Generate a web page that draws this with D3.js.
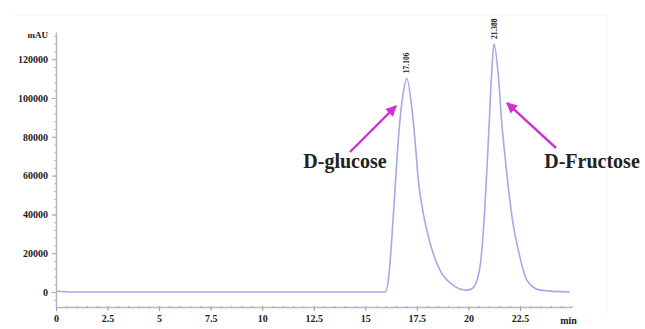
<!DOCTYPE html>
<html><head><meta charset="utf-8">
<script src="https://cdn.jsdelivr.net/npm/d3@7/dist/d3.min.js"></script>
<style>
html,body{margin:0;padding:0;background:#fff;}
svg{display:block;}
text{font-family:"Liberation Serif","Times New Roman",serif;font-weight:bold;fill:#222;}
</style></head>
<body>
<script>
// Chromatogram trace (time in min, signal in mAU)
const times  = [0.05, 0.8, 5, 10, 15, 15.96, 16.12, 16.28, 16.44, 16.60, 16.84, 17.01, 17.25, 17.41, 17.57, 17.81, 18.14, 18.62, 19.25, 19.92, 20.22, 20.56, 20.80, 20.97, 21.13, 21.24, 21.44, 21.62, 21.86, 22.16, 22.50, 22.83, 23.47, 24.93];
const values = [400, 0, 0, 0, 0, 0, 6200, 26800, 52600, 78400, 102600, 110200, 95400, 78400, 57700, 40700, 25300, 11300, 3600, 1000, 2100, 12900, 43800, 78400, 112900, 127800, 112900, 87100, 61300, 35600, 18000, 6200, 1000, 0];
const yTicks = [0, 20000, 40000, 60000, 80000, 100000, 120000];
const xTicks = [0, 2.5, 5, 7.5, 10, 12.5, 15, 17.5, 20, 22.5];
const xUnit = "min";
const yUnit = "mAU";
const peakTimes = [17.01, 21.24];
const peakLabels = ["17.106", "21.388"];
const peakValues = [110200, 127800];
const compounds = ["D-glucose", "D-Fructose"];

const W = 645, H = 329;
const svg = d3.select("body").append("svg").attr("width", W).attr("height", H);

const x = d3.scaleLinear().domain([0, 25]).range([56, 571.5]);
const y = d3.scaleLinear().domain([-7700, 134000]).range([307, 32]);

// faint frame
svg.append("line").attr("x1", 15).attr("x2", 607).attr("y1", 15).attr("y2", 15)
  .attr("stroke", "#eeeeee").attr("stroke-width", 1);
svg.append("line").attr("x1", 607).attr("x2", 607).attr("y1", 15).attr("y2", 315)
  .attr("stroke", "#f2f2f2").attr("stroke-width", 1);

// Y axis
const yAxis = d3.axisLeft(y).tickValues(yTicks).tickSize(4).tickSizeOuter(0)
  .tickFormat(d3.format("d"));
const gy = svg.append("g").attr("transform", "translate(56,0)").call(yAxis);
gy.select(".domain").attr("stroke", "#b8b8b8").attr("stroke-width", 1.5);
gy.selectAll(".tick line").attr("stroke", "#999");
gy.selectAll(".tick text").attr("x", -8).style("font-size", "10px")
  .style("font-family", "Liberation Serif").style("font-weight", "bold").attr("fill", "#333");
const gyMinor = svg.append("g").attr("transform", "translate(56,0)")
  .call(d3.axisLeft(y).tickValues(d3.range(-4000, 134000, 4000)).tickSize(2).tickFormat(""));
gyMinor.select(".domain").remove();
gyMinor.selectAll(".tick line").attr("stroke", "#bbb");

svg.append("text").attr("x", 48).attr("y", 38).attr("text-anchor", "end")
  .style("font-size", "9px").text(yUnit);

// X axis
const xAxis = d3.axisBottom(x).tickValues(xTicks).tickSize(4).tickSizeOuter(0)
  .tickFormat(d => String(d));
const gx = svg.append("g").attr("transform", "translate(0,307)").call(xAxis);
gx.select(".domain").attr("stroke", "#b8b8b8").attr("stroke-width", 1.5);
gx.selectAll(".tick line").attr("stroke", "#999");
gx.selectAll(".tick text").attr("y", 8).style("font-size", "10px")
  .style("font-family", "Liberation Serif").style("font-weight", "bold").attr("fill", "#333");
const gxMinor = svg.append("g").attr("transform", "translate(0,307)")
  .call(d3.axisBottom(x).tickValues(d3.range(0.5, 25.01, 0.5)).tickSize(2).tickFormat(""));
gxMinor.select(".domain").remove();
gxMinor.selectAll(".tick line").attr("stroke", "#aaa").attr("transform", "translate(0,-1)");
svg.append("text").attr("x", x(25) - 3).attr("y", 324).attr("text-anchor", "middle")
  .style("font-size", "10px").attr("fill", "#333").text(xUnit);

// Trace
const pts = times.map((t, i) => [t, values[i]]);
const line = d3.line().x(d => x(d[0])).y(d => y(d[1])).curve(d3.curveMonotoneX);
svg.append("path").datum(pts).attr("d", line).attr("fill", "none")
  .attr("stroke", "#a8a8e6").attr("stroke-width", 1.6);

// Peak labels (rotated)
peakTimes.forEach((t, i) => {
  const px = x(t), py = y(peakValues[i]) - 5;
  svg.append("text").attr("transform", `translate(${px},${py}) rotate(-90)`)
    .attr("text-anchor", "start").attr("dy", "0.35em").style("font-size", "7.5px").attr("fill", "#333")
    .text(peakLabels[i]);
});

// Arrows + compound names
const defs = svg.append("defs");
defs.append("marker").attr("id", "ah").attr("viewBox", "0 0 10 10")
  .attr("refX", 9).attr("refY", 5).attr("markerWidth", 5).attr("markerHeight", 4.5)
  .attr("orient", "auto").attr("markerUnits", "strokeWidth")
  .append("path").attr("d", "M0,0 L10,5 L0,10 Z").attr("fill", "#d030d0");

const ann = [
  {text: compounds[0], tx: 345, ty: 168, x1: 350, y1: 152, x2: 396, y2: 106},
  {text: compounds[1], tx: 592, ty: 168, x1: 556, y1: 148, x2: 507, y2: 103}
];
ann.forEach(a => {
  svg.append("line").attr("x1", a.x1).attr("y1", a.y1).attr("x2", a.x2).attr("y2", a.y2)
    .attr("stroke", "#d030d0").attr("stroke-width", 2.4).attr("marker-end", "url(#ah)");
  svg.append("text").attr("x", a.tx).attr("y", a.ty).attr("text-anchor", "middle")
    .style("font-size", "20px").attr("fill", "#111").text(a.text);
});
</script>
</body></html>
